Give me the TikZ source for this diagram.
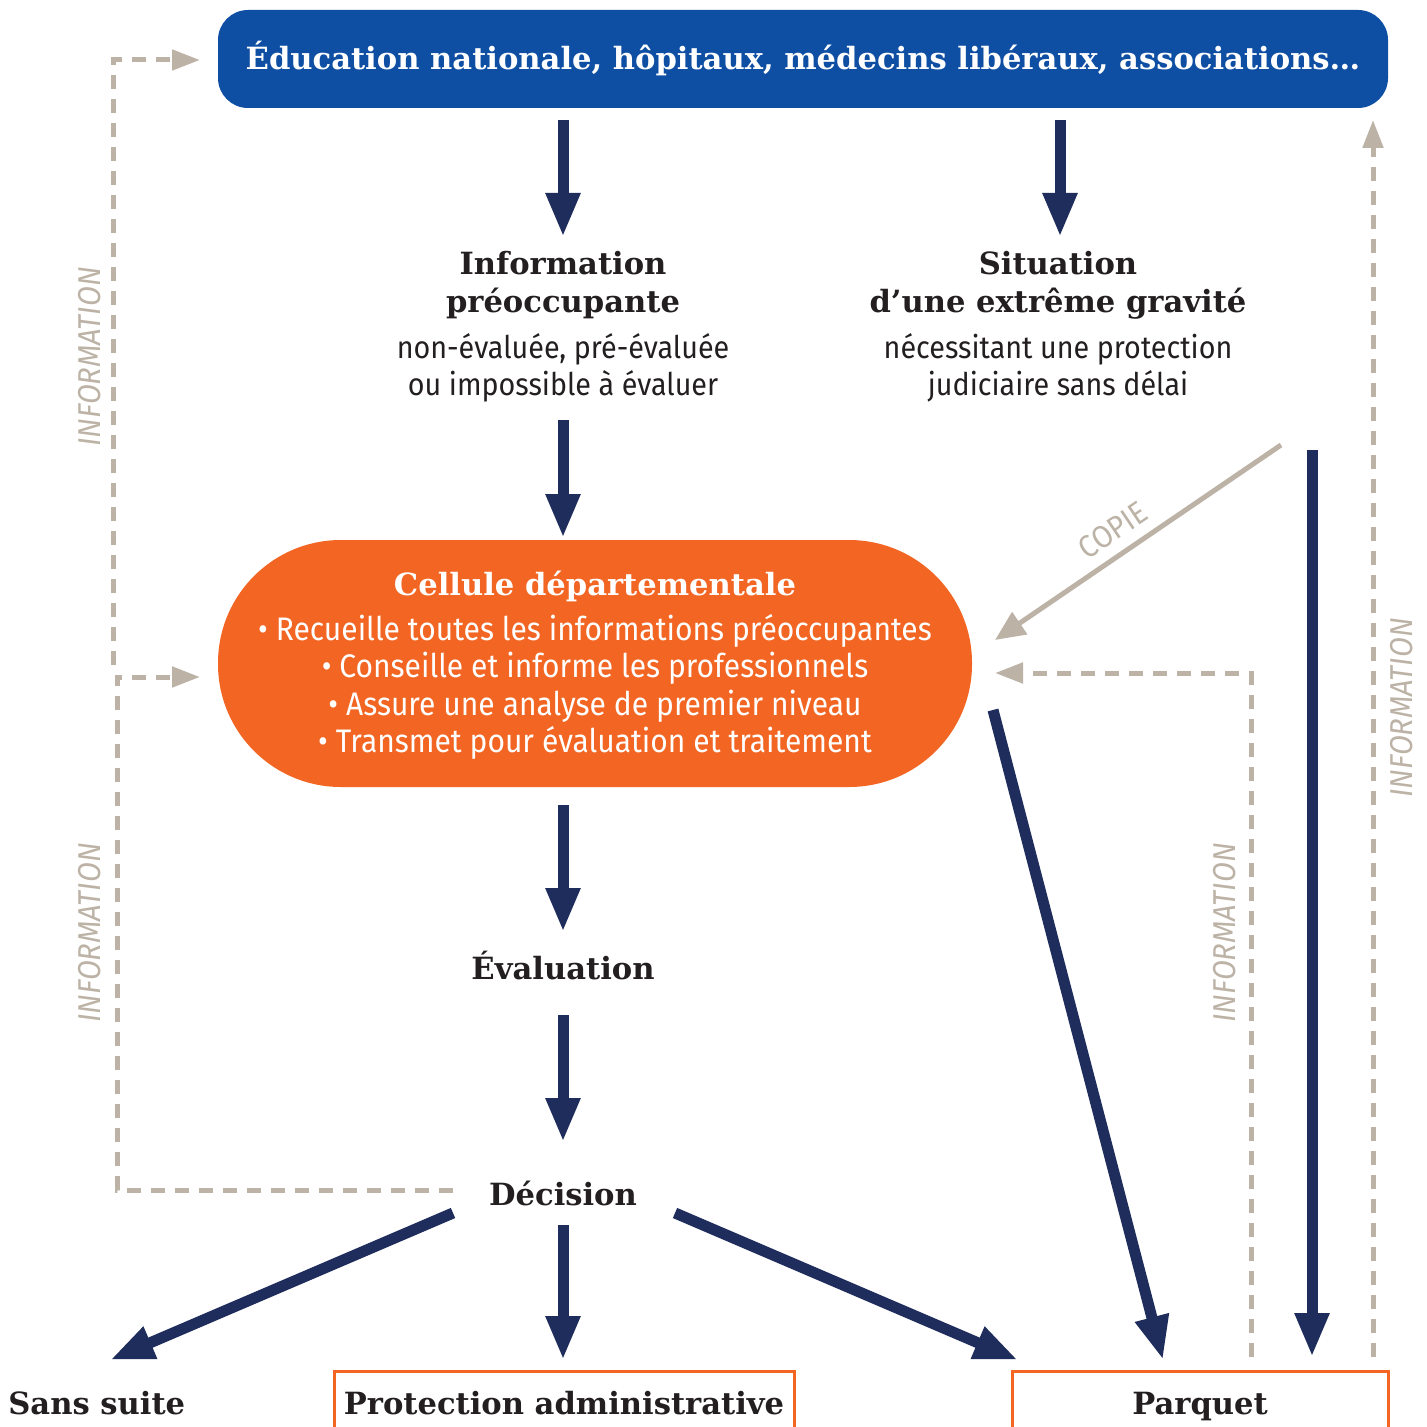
\documentclass[tikz,border=0pt]{standalone}
\usepackage{fontspec}
\usetikzlibrary{arrows.meta}
\newfontfamily\slab{DejaVu Serif}
\newfontfamily\sansf{Fira Sans}[FakeStretch=0.92]
\definecolor{topblue}{HTML}{0F4FA3}
\definecolor{navy}{HTML}{1F2D5C}
\definecolor{orng}{HTML}{F26522}
\definecolor{graybrown}{HTML}{BCB3A6}
\definecolor{txt}{HTML}{231F20}
\tikzset{
  navyarrow/.style={draw=navy, line width=5.5pt, -{Triangle[width=16pt,length=22pt]}},
  grayarrow/.style={draw=graybrown, line width=2.5pt, -{Triangle[width=13pt,length=15pt]}},
  dasharrow/.style={draw=graybrown, line width=2.5pt, dash pattern=on 7pt off 5pt, -{Triangle[width=10pt,length=14pt]}},
  boldlbl/.style={text=txt, font=\slab\bfseries\fontsize{15.3}{19}\selectfont, align=center, inner sep=0pt},
  sublbl/.style={text=txt, font=\sansf\fontsize{15.6}{18.5}\selectfont, align=center, inner sep=0pt},
  infolbl/.style={text=graybrown, font=\sansf\itshape\fontsize{15.8}{17}\selectfont, inner sep=0pt},
  outbox/.style={draw=orng, line width=1.5pt}
}
\begin{document}
\begin{tikzpicture}[x=0.5pt,y=-0.5pt]
\clip (0,0) rectangle (1427,1427);
\fill[white] (0,0) rectangle (1427,1427);

% top box
\node[fill=topblue, rounded corners=15pt, minimum width=585pt, minimum height=49pt, inner sep=0pt,
      text=white, font=\slab\bfseries\fontsize{15.3}{18}\selectfont] (top) at (803,59)
  {Éducation nationale, hôpitaux, médecins libéraux, associations…};

% Information préoccupante
\node[boldlbl] (infot) at (563,285) {Information\\préoccupante};
\node[sublbl] (infos) at (563,368) {non-évaluée, pré-évaluée\\ou impossible à évaluer};
% Situation
\node[boldlbl] (sitt) at (1058,285) {Situation\\d’une extrême gravité};
\node[sublbl] (sits) at (1058,368) {nécessitant une protection\\judiciaire sans délai};

% cellule
\node[fill=orng, rounded corners=61.5pt, minimum width=377pt, minimum height=123.5pt, inner sep=0pt] (cell) at (595,663.5) {};
\node[text=white, font=\slab\bfseries\fontsize{15.3}{18}\selectfont, inner sep=0pt] (cellt) at (595,586) {Cellule départementale};
\node[text=white, font=\sansf\fontsize{16.3}{18.6}\selectfont, align=center, inner sep=0pt] (cellb) at (595,687)
  {• Recueille toutes les informations préoccupantes\\
   • Conseille et informe les professionnels\\
   • Assure une analyse de premier niveau\\
   • Transmet pour évaluation et traitement};

% Evaluation, Decision
\node[boldlbl] (eval) at (563,966) {Évaluation};
\node[boldlbl] (dec) at (563,1193) {Décision};

% bottom
\node[boldlbl, anchor=base west] (sans) at (8,1414) {Sans suite};
\draw[outbox] (334,1371) rectangle (794,1460);
\node[boldlbl, anchor=base] (prot) at (564,1414) {Protection administrative};
\draw[outbox] (1012,1371) rectangle (1388,1460);
\node[boldlbl, anchor=base] (parq) at (1200,1414) {Parquet};

% coordinates
\coordinate (a1s) at (563,120); \coordinate (a1e) at (563,237);
\coordinate (a2s) at (1060,120); \coordinate (a2e) at (1060,237);
\coordinate (a3s) at (563,420); \coordinate (a3e) at (563,538);
\coordinate (a4s) at (563,805); \coordinate (a4e) at (563,932);
\coordinate (a5s) at (563,1015); \coordinate (a5e) at (563,1142);
\coordinate (a6s) at (453,1213); \coordinate (a6e) at (110,1360);
\coordinate (a7s) at (563,1225); \coordinate (a7e) at (563,1360);
\coordinate (a8s) at (675,1213); \coordinate (a8e) at (1018,1360);
\coordinate (a9s) at (993,710); \coordinate (a9e) at (1163,1360);
\coordinate (a10s) at (1312,450); \coordinate (a10e) at (1312,1357);
\coordinate (cps) at (1281,445); \coordinate (cpe) at (995,640);

\draw[navyarrow] (a1s) -- (a1e);
\draw[navyarrow] (a2s) -- (a2e);
\draw[navyarrow] (a3s) -- (a3e);
\draw[navyarrow] (a4s) -- (a4e);
\draw[navyarrow] (a5s) -- (a5e);
\draw[navyarrow] (a6s) -- (a6e);
\draw[navyarrow] (a7s) -- (a7e);
\draw[navyarrow] (a8s) -- (a8e);
\draw[navyarrow] (a9s) -- (a9e);
\draw[navyarrow] (a10s) -- (a10e);

% copie
\draw[grayarrow] (cps) -- (cpe);
\node[text=graybrown, font=\sansf\fontsize{15.6}{17}\selectfont, rotate=34, inner sep=0pt] (copie) at (1113,530) {COPIE};

% dashed information arrows
\coordinate (d1s) at (453,1190); \coordinate (d1e) at (200,677);
\draw[dasharrow] (d1s) -- (117,1190) -- (117,677) -- (d1e);
\coordinate (d2s) at (113,665); \coordinate (d2e) at (200,60);
\draw[dasharrow] (d2s) -- (113,60) -- (d2e);
\coordinate (d3s) at (1251,1357); \coordinate (d3e) at (995,673);
\draw[dasharrow] (d3s) -- (1251,673) -- (d3e);
\coordinate (d4s) at (1373,1357); \coordinate (d4e) at (1373,120);
\draw[dasharrow] (d4s) -- (d4e);

\node[infolbl, rotate=90] (i1) at (90,357) {INFORMATION};
\node[infolbl, rotate=90] (i2) at (90,933) {INFORMATION};
\node[infolbl, rotate=90] (i3) at (1225,933) {INFORMATION};
\node[infolbl, rotate=90] (i4) at (1402,708) {INFORMATION};
\end{tikzpicture}
\end{document}
